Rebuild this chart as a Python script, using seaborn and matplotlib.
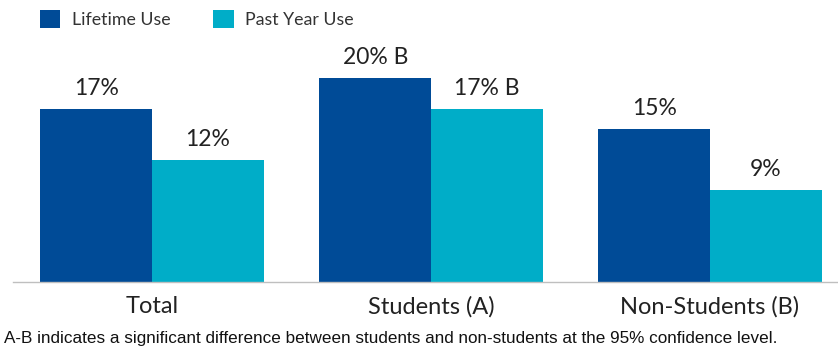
import matplotlib
matplotlib.use("Agg")
import matplotlib.pyplot as plt
import seaborn as sns
import pandas as pd
from matplotlib.patches import Patch

categories = ["Total", "Students (A)", "Non-Students (B)"]
series_names = ["Lifetime Use", "Past Year Use"]
lifetime = [17, 20, 15]
past_year = [12, 17, 9]
lifetime_labels = ["17%", "20% B", "15%"]
past_year_labels = ["12%", "17% B", "9%"]
footnote = "A-B indicates a significant difference between students and non-students at the 95% confidence level."
colors = ["#004B97", "#00ADC8"]

df = pd.DataFrame({
    "category": categories * 2,
    "series": [series_names[0]] * 3 + [series_names[1]] * 3,
    "value": lifetime + past_year,
})

sns.set_style("white")
plt.rcParams["font.family"] = ["Lato", "DejaVu Sans"]

W, H = 838, 349
fig = plt.figure(figsize=(W / 100, H / 100), dpi=100)
left_px, right_px, top_px, bottom_px = 12.5, 849.5, 40, 282
ax = fig.add_axes([left_px / W, 1 - bottom_px / H, (right_px - left_px) / W, (bottom_px - top_px) / H])

sns.barplot(data=df, x="category", y="value", hue="series", order=categories,
            hue_order=series_names, palette=colors, width=0.8, gap=0,
            saturation=1, ax=ax, legend=False, linewidth=0, edgecolor="none")

ax.set_xlim(-0.5, 2.5)
ax.set_ylim(0, (bottom_px - top_px) / 10.2)
for s in ["top", "right", "left"]:
    ax.spines[s].set_visible(False)
ax.spines["bottom"].set_color("#BFBFBF")
ax.spines["bottom"].set_linewidth(1)
ax.set_yticks([])
ax.set_xlabel("")
ax.set_ylabel("")
ax.set_xticks([0, 1, 2])
ax.set_xticklabels(categories, fontsize=17, color="#222222")
ax.tick_params(axis="x", length=0, pad=10)
# boundary ticks
ax.set_xticks([-0.5, 0.5, 1.5, 2.5], minor=True)
ax.tick_params(axis="x", which="minor", length=6, color="#BFBFBF", width=1)

for cont, labs in zip(ax.containers, [lifetime_labels, past_year_labels]):
    ax.bar_label(cont, labels=labs, padding=7, fontsize=16.5, color="#222222")

handles = [Patch(facecolor=c, edgecolor="none") for c in colors]
fig.legend(handles, series_names, loc="center left", bbox_to_anchor=(24 / W, 1 - 19 / H),
           ncol=2, frameon=False, fontsize=12.8, handlelength=1.15, handleheight=1.15,
           columnspacing=2.4, handletextpad=0.65, labelcolor="#333333")

fig.text(4 / W, 1 - 338 / H, footnote, fontsize=12.3, va="center", ha="left",
         family=["Liberation Sans Narrow", "Liberation Sans", "DejaVu Sans"], color="#111111")

fig.savefig("out.png", dpi=100)
